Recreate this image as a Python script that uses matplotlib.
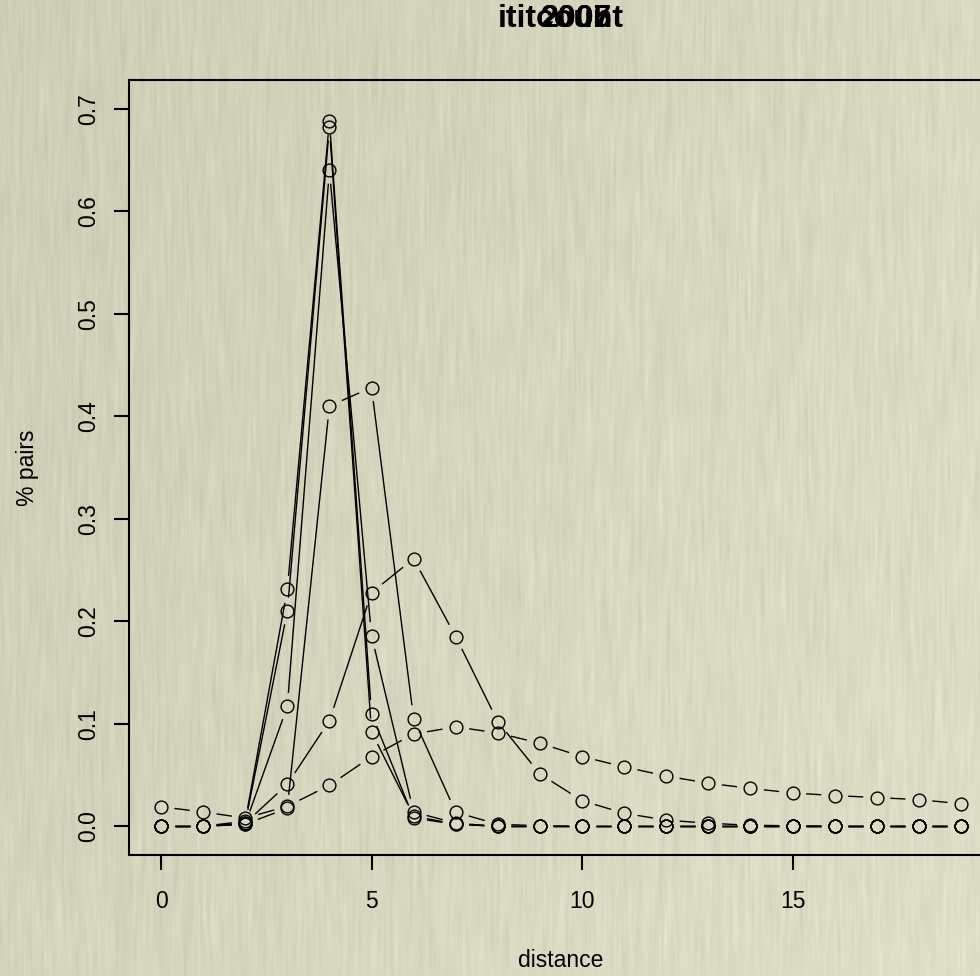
import numpy as np
import matplotlib
matplotlib.use("Agg")
import matplotlib.pyplot as plt

plt.rcParams['font.family'] = ['Liberation Sans', 'DejaVu Sans']

# distance distributions, one row per run
distance = list(range(20))
broad = [0.019, 0.014, 0.008, 0.0195, 0.040, 0.068, 0.090, 0.097, 0.091, 0.081,
         0.068, 0.058, 0.049, 0.042, 0.037, 0.0325, 0.030, 0.028, 0.026, 0.022]
peak6 = [0, 0, 0.003, 0.041, 0.103, 0.228, 0.261, 0.185, 0.102, 0.051,
         0.025, 0.0127, 0.006, 0.003, 0.001, 0.0005, 0, 0, 0, 0]
peak5 = [0, 0, 0.002, 0.0176, 0.410, 0.428, 0.105, 0.0137, 0.002, 0.0005,
         0, 0, 0, 0, 0, 0, 0, 0, 0, 0]
peak4a = [0, 0, 0.005, 0.231, 0.688, 0.110, 0.008, 0.002, 0, 0,
          0, 0, 0, 0, 0, 0, 0, 0, 0, 0]
peak4b = [0, 0, 0.003, 0.210, 0.682, 0.092, 0.010, 0.002, 0, 0,
          0, 0, 0, 0, 0, 0, 0, 0, 0, 0]
peak4c = [0, 0, 0.002, 0.117, 0.640, 0.186, 0.014, 0.003, 0, 0,
          0, 0, 0, 0, 0, 0, 0, 0, 0, 0]
runs = [broad, peak6, peak5, peak4a, peak4b, peak4c]
main_title = "ititcount"
year_titles = ["2005", "2007"]

W, H = 980, 976
fig = plt.figure(figsize=(W / 100, H / 100), dpi=100)

# paper background with faint vertical grain
rng = np.random.default_rng(3)
grain = rng.normal(size=(H // 24 + 2, W))
grain = np.apply_along_axis(lambda r: np.convolve(r, np.ones(3) / 3, mode='same'), 1, grain)
grain = np.repeat(grain, 24, axis=0)[:H]
grain = np.apply_along_axis(lambda c: np.convolve(c, np.ones(41) / 41, mode='same'), 0, grain)
shade = np.linspace(-5, 6, W)[None, :] + np.linspace(-2, 4, H)[:, None]
base = np.array([213, 213, 190], float)
img = base[None, None, :] + (shade + grain * 7)[:, :, None]
img = np.clip(img, 0, 255) / 255
fig.figimage(img, 0, 0, zorder=-10)

ax = fig.add_axes([129 / W, 121 / H, (993 - 129) / W, (855 - 80) / H])
ax.patch.set_alpha(0)
ax.set_xlim(-0.76, 19.76)
ax.set_ylim(-0.028, 0.728)

for s in ax.spines.values():
    s.set_linewidth(1.5)
ax.set_xticks([0, 5, 10, 15])
ax.set_yticks(np.arange(0, 0.71, 0.1))
ax.set_yticklabels(["%.1f" % v for v in np.arange(0, 0.71, 0.1)],
                   rotation=90, va='center')
ax.tick_params(direction='out', length=11, width=1.5, labelsize=16.5, pad=14)
ax.tick_params(axis='y', pad=10)
ax.set_xlabel("distance", fontsize=16.5, labelpad=26)
ax.set_ylabel("% pairs", fontsize=16.5, labelpad=27)

# titles of the successive runs drawn over each other
fig.text(561 / W, 1 - 19 / H, main_title, ha='center', va='center',
         fontsize=23, fontweight='bold')
for t in year_titles:
    fig.text(577 / W, 1 - 19 / H, t, ha='center', va='center',
             fontsize=23, fontweight='bold')

# points joined by lines that stop short of each circle
gap = 13.5
trans = ax.transData
inv = trans.inverted()
for ys in runs:
    pts = trans.transform(np.column_stack([distance, ys]))
    for p, q in zip(pts[:-1], pts[1:]):
        d = q - p
        L = np.hypot(*d)
        if L <= 2 * gap:
            continue
        u = d / L
        a, b = inv.transform([p + u * gap, q - u * gap])
        ax.plot([a[0], b[0]], [a[1], b[1]], color='black', lw=1.0,
                solid_capstyle='butt')
    ax.plot(distance, ys, 'o', ms=9.2, mfc='none', mec='black', mew=1.0)

fig.savefig("out.png", dpi=100)
